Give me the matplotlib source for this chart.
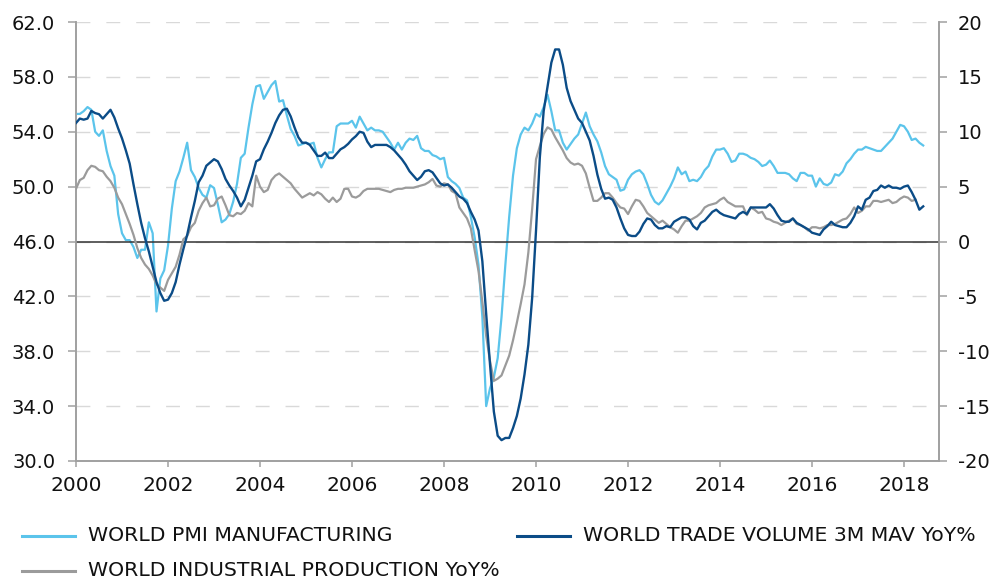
import numpy as np
import matplotlib
matplotlib.use("Agg")
import matplotlib.pyplot as plt
from matplotlib.lines import Line2D
from matplotlib.ticker import FormatStrFormatter

plt.rcParams['font.family'] = ['DejaVu Sans']
plt.rcParams['axes.unicode_minus'] = False

start_year = 2000

# WORLD PMI MANUFACTURING (left axis), monthly from Jan 2000
pmi = [
    55.3, 55.3, 55.5, 55.8, 55.6, 54.0, 53.7, 54.1, 52.6, 51.5,
    50.8, 48.0, 46.6, 46.1, 46.1, 45.6, 44.8, 45.4, 45.4, 47.4,
    46.6, 40.9, 43.3, 43.9, 45.7, 48.4, 50.4, 51.1, 52.1, 53.2,
    51.2, 50.7, 49.9, 49.4, 49.2, 50.1, 49.9, 48.7, 47.4, 47.6,
    48.0, 48.9, 50.2, 52.1, 52.4, 54.3, 56.0, 57.3, 57.4, 56.4,
    56.9, 57.4, 57.7, 56.2, 56.3, 55.2, 54.2, 53.7, 53.0, 53.1,
    53.2, 53.1, 53.2, 52.1, 51.4, 52.0, 52.5, 52.5, 54.4, 54.6,
    54.6, 54.6, 54.8, 54.3, 55.1, 54.6, 54.1, 54.3, 54.1, 54.1,
    54.0, 53.6, 53.2, 52.7, 53.2, 52.7, 53.2, 53.5, 53.4, 53.7,
    52.8, 52.6, 52.6, 52.3, 52.2, 52.0, 52.1, 50.7, 50.4, 50.2,
    49.9, 49.2, 49.0, 47.8, 46.3, 44.3, 40.5, 34.0, 35.3, 36.1,
    37.5, 40.5, 44.3, 47.8, 50.8, 52.8, 53.8, 54.3, 54.1, 54.6,
    55.3, 55.1, 55.8, 56.7, 55.5, 54.1, 54.1, 53.2, 52.7, 53.1,
    53.5, 53.8, 54.6, 55.4, 54.4, 53.8, 53.3, 52.5, 51.5, 50.9,
    50.7, 50.5, 49.7, 49.8, 50.5, 50.9, 51.1, 51.2, 50.9, 50.2,
    49.4, 48.9, 48.7, 49.0, 49.5, 50.0, 50.6, 51.4, 50.9, 51.1,
    50.4, 50.5, 50.4, 50.7, 51.2, 51.5, 52.2, 52.7, 52.7, 52.8,
    52.4, 51.8, 51.9, 52.4, 52.4, 52.3, 52.1, 52.0, 51.8, 51.5,
    51.6, 51.9, 51.5, 51.0, 51.0, 51.0, 50.9, 50.6, 50.4, 51.0,
    51.0, 50.8, 50.8, 50.0, 50.6, 50.2, 50.1, 50.3, 50.9, 50.8,
    51.1, 51.7, 52.0, 52.4, 52.7, 52.7, 52.9, 52.8, 52.7, 52.6,
    52.6, 52.9, 53.2, 53.5, 54.0, 54.5, 54.4, 54.0, 53.4, 53.5,
    53.2, 53.0,
]

# WORLD TRADE VOLUME 3M MAV YoY% (right axis), monthly from Jan 2000
trade = [
    10.8, 11.2, 11.1, 11.2, 11.9, 11.7, 11.6, 11.2, 11.6, 12.0,
    11.3, 10.3, 9.4, 8.3, 7.1, 5.2, 3.4, 1.7, 0.3, -0.9,
    -2.3, -3.7, -4.7, -5.4, -5.3, -4.7, -3.7, -2.1, -0.7, 0.6,
    2.2, 3.7, 5.4, 6.0, 6.9, 7.2, 7.5, 7.3, 6.6, 5.7,
    5.1, 4.6, 4.0, 3.2, 3.8, 4.9, 6.0, 7.3, 7.5, 8.4,
    9.1, 9.9, 10.8, 11.5, 12.0, 12.1, 11.4, 10.4, 9.5, 9.0,
    9.0, 8.8, 8.3, 7.8, 7.8, 8.1, 7.6, 7.6, 8.0, 8.4,
    8.6, 8.9, 9.3, 9.6, 10.0, 9.9, 9.1, 8.6, 8.8, 8.8,
    8.8, 8.8, 8.6, 8.3, 7.9, 7.5, 7.0, 6.4, 6.0, 5.6,
    5.9, 6.4, 6.5, 6.3, 5.8, 5.3, 5.1, 5.2, 4.9, 4.5,
    4.1, 3.9, 3.5, 2.7, 2.0, 1.0, -1.8, -6.6, -11.2, -15.5,
    -17.7, -18.1, -17.9, -17.9, -17.0, -15.9, -14.3, -12.1, -9.4, -5.1,
    1.0, 7.7, 11.9, 14.1, 16.3, 17.5, 17.5, 16.1, 14.0, 12.8,
    12.0, 11.2, 10.8, 10.0, 9.2, 7.8, 6.1, 4.8, 3.9, 4.0,
    3.8, 3.1, 2.1, 1.2, 0.6, 0.5, 0.5, 0.9, 1.6, 2.1,
    2.0, 1.5, 1.2, 1.2, 1.4, 1.3, 1.8, 2.0, 2.2, 2.2,
    2.0, 1.4, 1.1, 1.7, 1.9, 2.3, 2.7, 2.9, 2.6, 2.4,
    2.3, 2.2, 2.1, 2.5, 2.7, 2.5, 3.1, 3.1, 3.1, 3.1,
    3.1, 3.4, 3.0, 2.4, 1.9, 1.8, 1.8, 2.1, 1.7, 1.5,
    1.3, 1.1, 0.8, 0.7, 0.6, 1.1, 1.4, 1.8, 1.5, 1.4,
    1.3, 1.3, 1.7, 2.3, 3.2, 2.9, 3.8, 4.0, 4.6, 4.7,
    5.1, 4.9, 5.1, 4.9, 4.9, 4.8, 5.0, 5.1, 4.5, 3.8,
    2.9, 3.2,
]

# WORLD INDUSTRIAL PRODUCTION YoY% (right axis), monthly from Jan 2000
ip = [
    4.8, 5.6, 5.8, 6.5, 6.9, 6.8, 6.5, 6.4, 5.9, 5.5,
    4.9, 4.0, 3.4, 2.5, 1.6, 0.6, -0.6, -1.5, -2.1, -2.5,
    -3.1, -3.9, -4.2, -4.5, -3.5, -2.9, -2.3, -1.2, 0.2, 0.5,
    1.3, 1.7, 2.8, 3.5, 4.0, 3.2, 3.3, 3.9, 4.1, 3.3,
    2.4, 2.3, 2.6, 2.5, 2.8, 3.5, 3.2, 6.0, 5.0, 4.5,
    4.7, 5.6, 6.0, 6.2, 5.9, 5.6, 5.3, 4.8, 4.4, 4.0,
    4.2, 4.4, 4.2, 4.5, 4.3, 3.9, 3.6, 4.0, 3.6, 3.9,
    4.8, 4.8, 4.1, 4.0, 4.2, 4.6, 4.8, 4.8, 4.8, 4.8,
    4.7, 4.6, 4.5, 4.7, 4.8, 4.8, 4.9, 4.9, 4.9, 5.0,
    5.1, 5.2, 5.4, 5.7, 5.1, 5.0, 5.3, 5.2, 4.6, 4.4,
    3.1, 2.6, 2.1, 1.2, -0.8, -2.7, -5.5, -8.6, -10.9, -12.7,
    -12.5, -12.2, -11.3, -10.4, -9.0, -7.4, -5.7, -3.9, -1.0, 3.0,
    7.5, 8.7, 9.8, 10.4, 10.2, 9.5, 8.9, 8.3, 7.6, 7.2,
    7.0, 7.1, 6.9, 6.2, 4.9, 3.7, 3.7, 4.0, 4.4, 4.4,
    4.0, 3.5, 3.1, 3.0, 2.5, 3.2, 3.8, 3.7, 3.2, 2.6,
    2.3, 2.0, 1.7, 1.9, 1.6, 1.3, 1.1, 0.8, 1.4, 1.9,
    1.9, 2.1, 2.3, 2.6, 3.1, 3.3, 3.4, 3.5, 3.8, 4.0,
    3.6, 3.4, 3.2, 3.2, 3.2, 2.4, 3.1, 2.9, 2.6, 2.7,
    2.1, 2.0, 1.8, 1.7, 1.5, 1.7, 1.9, 2.1, 1.6, 1.5,
    1.3, 1.0, 1.3, 1.3, 1.2, 1.3, 1.5, 1.5, 1.6, 1.8,
    2.0, 2.1, 2.5, 3.1, 2.6, 2.8, 3.2, 3.2, 3.7, 3.7,
    3.6, 3.7, 3.8, 3.5, 3.6, 3.9, 4.1, 4.0, 3.7, 3.8,
]

left_ticks = [30, 34, 38, 42, 46, 50, 54, 58, 62]
right_ticks = [-20, -15, -10, -5, 0, 5, 10, 15, 20]
year_ticks = [2000, 2002, 2004, 2006, 2008, 2010, 2012, 2014, 2016, 2018]

labels = ["WORLD PMI MANUFACTURING",
          "WORLD TRADE VOLUME 3M MAV YoY%",
          "WORLD INDUSTRIAL PRODUCTION YoY%"]
colors = ["#5BC4EB", "#0B4C87", "#9B9B9B"]

W, H = 994, 583
fig = plt.figure(figsize=(W / 100, H / 100), dpi=100)
ax = fig.add_axes([76 / W, 1 - 461 / H, (939 - 76) / W, (461 - 22) / H])
ax2 = ax.twinx()

x_pmi = start_year + np.arange(len(pmi)) / 12
x_trade = start_year + np.arange(len(trade)) / 12
x_ip = start_year + np.arange(len(ip)) / 12

spine_c = "#A0A0A0"
text_c = "#111111"

# left axis
ax.set_xlim(2000, 2018.76)
ax.set_ylim(30, 62)
ax.set_yticks(left_ticks)
ax.yaxis.set_major_formatter(FormatStrFormatter('%.1f'))
ax.set_xticks(year_ticks)
ax.set_xticklabels([str(y) for y in year_ticks])
ax.grid(axis='y', color='#D9D9D9', linewidth=1.0, linestyle=(0, (10, 11.5)))
ax.set_axisbelow(True)
ax.plot(x_pmi, pmi, color=colors[0], lw=1.6, zorder=3, solid_joinstyle='round')

# right axis
ax2.set_ylim(-20, 20)
ax2.set_yticks(right_ticks)
ax2.set_yticklabels([str(v) for v in right_ticks])
ax2.axhline(0, color='#333333', lw=1.1, zorder=1)
ax2.plot(x_ip, ip, color=colors[2], lw=1.6, zorder=3, solid_joinstyle='round')
ax2.plot(x_trade, trade, color=colors[1], lw=1.7, zorder=4, solid_joinstyle='round')

for a in (ax, ax2):
    a.spines['top'].set_visible(False)
    for s in ('left', 'right', 'bottom'):
        a.spines[s].set_color(spine_c)
        a.spines[s].set_linewidth(1.2)

ax.tick_params(axis='y', direction='out', length=6, width=1.1, color=spine_c,
               labelsize=14, pad=9, labelcolor=text_c)
ax.tick_params(axis='x', direction='out', length=4.5, width=1.1, color=spine_c,
               labelsize=14.5, pad=6, labelcolor=text_c)
ax2.tick_params(axis='y', direction='out', length=5.5, width=1.1, color=spine_c,
                labelsize=14, pad=8, labelcolor=text_c)

# legend (manual placement, two columns)
entries = [
    (22, 75, 88, 535.5, 0),
    (517, 570, 583, 535.5, 1),
    (22, 75, 88, 571.0, 2),
]
for x0, x1, xt, yc, i in entries:
    fig.add_artist(Line2D([x0 / W, x1 / W], [1 - yc / H, 1 - yc / H],
                          transform=fig.transFigure, color=colors[i], lw=2.2))
    fig.text(xt / W, 1 - yc / H, labels[i], fontsize=14.7, color=text_c,
             va='center', ha='left')

fig.savefig("out.png", dpi=100)
